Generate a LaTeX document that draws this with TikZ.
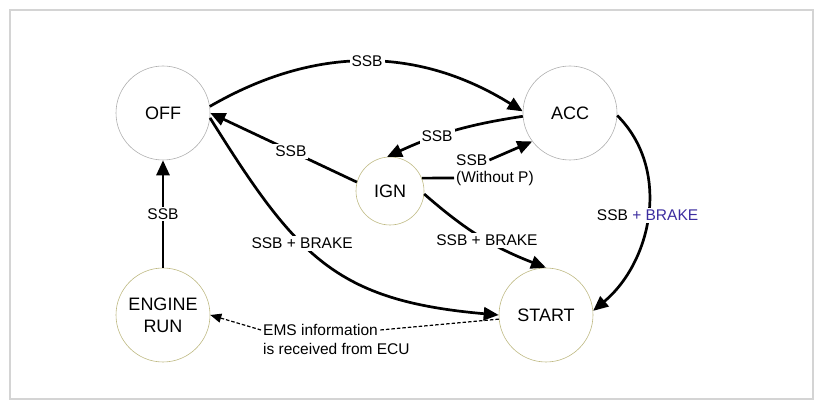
\documentclass[tikz,border=0pt]{standalone}
\usepackage{fontspec}
\setmainfont{Liberation Sans}
\usetikzlibrary{arrows.meta}
\definecolor{framegray}{RGB}{212,212,212}
\definecolor{rimgray}{RGB}{175,175,175}
\definecolor{rimolive}{RGB}{190,185,130}
\definecolor{brakeblue}{RGB}{60,45,160}
\tikzset{stcircle/.style={circle, draw=rimgray, line width=0.6pt, minimum size=94pt,
    inner sep=0pt, align=center, font=\fontsize{18}{22}\selectfont},
  trans/.style={line width=2.7pt, -{Triangle[length=15pt,width=13pt]}},
  lbl/.style={fill=white, inner sep=2pt, font=\fontsize{15.5}{19}\selectfont},
  emsline/.style={line width=1.2pt, dash pattern=on 3.5pt off 2pt}
}

\begin{document}
\begin{tikzpicture}[x=1pt,y=1pt]
                \useasboundingbox (0,0) rectangle (823,410);
                \draw[framegray, line width=1.8pt] (10,11) rectangle (813,400);  % Frame

                % States
                \node[stcircle] (off) at (163,297) {OFF};
                \node[stcircle] (acc) at (570,297) {ACC};
                \node[stcircle, draw=rimolive, minimum size=68pt] (ign) at (390,219) {IGN};
                \node[stcircle, draw=rimolive] (run) at (163,95) {ENGINE\\RUN};
                \node[stcircle, draw=rimolive] (start) at (546,95) {START};

                % Split labels
                \node[lbl, anchor=west] (wopa) at (454,250) {SSB};
                \node[lbl, anchor=west] (wopb) at (454,232) {(Without P)};
                \node[lbl, anchor=west] (emsa) at (261,80) {EMS information};
                \node[lbl, anchor=west] (emsb) at (261,61) {is received from ECU};

                % Transitions
                \draw[trans] (off.8) to[bend left=31] node[lbl] {SSB} (acc.178);
                \draw[trans] (acc.184) to[bend right=8] node[lbl, pos=0.63] {SSB} (ign.95);
                \draw[line width=2.7pt] (ign.22) -- (wopb.west);
                \draw[trans] (wopa.east) -- (acc.217);
                \draw[trans] (ign.165) -- node[lbl, pos=0.45] {SSB} (off.east);
                \draw[trans] (off.-6) to[out=-58, in=175, looseness=1.2] node[lbl, pos=0.4] {SSB + BRAKE} (start.west);
                \draw[trans] (ign.-5) to[bend right=10] node[lbl, pos=0.55] {SSB + BRAKE} (start.north);
                \draw[trans] (acc.-3) to[out=-45, in=40] node[lbl] {SSB \textcolor{brakeblue}{+ BRAKE}} (start.5);
                \draw[trans] (run.north) -- node[lbl] {SSB} (off.south);

                % EMS information
                \draw[emsline] (start.185) -- (emsa.east);
                \draw[emsline, -{Triangle[length=11pt,width=9pt]}] (emsa.west) -- (run.east);
\end{tikzpicture}
\end{document}
